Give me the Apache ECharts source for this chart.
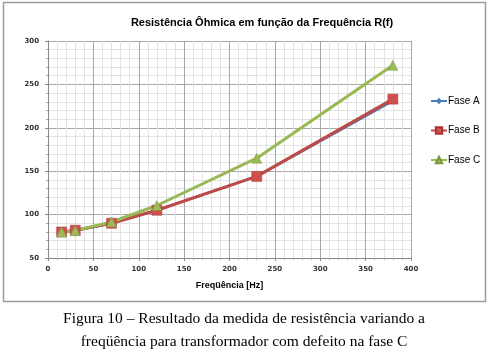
<!DOCTYPE html>
<html><head><meta charset="utf-8">
<script src="https://cdn.jsdelivr.net/npm/echarts@6/dist/echarts.min.js"></script>
<style>html,body{margin:0;padding:0;background:#fff}#c{width:488px;height:354px}</style>
</head><body><div id="c"></div>
<script>
const freq = [15, 30, 70, 120, 230, 380];
const faseA = [80, 81.5, 90, 105, 144, 231];
const faseB = [80, 82, 90, 105, 144, 233];
const faseC = [80, 81.5, 91.5, 110.5, 165, 272];
const seriesNames = ['Fase A', 'Fase B', 'Fase C'];
const chartTitle = 'Resistência Ôhmica em função da Frequência R(f)';
const xTitle = 'Freqüência [Hz]';
const caption1 = 'Figura 10 – Resultado da medida de resistência variando a';
const caption2 = 'freqüência para transformador com defeito na fase C';

const pair = (ys) => freq.map((x, i) => [x, ys[i]]);
const chart = echarts.init(document.getElementById('c'), null, {renderer: 'canvas'});
const tickLabel = {fontSize: 7, fontWeight: 'bold', color: '#333', fontFamily: 'DejaVu Sans'};
chart.setOption({
  animation: false,
  title: {text: chartTitle, left: 257, top: 12, textAlign: 'center',
    textStyle: {fontSize: 11, fontWeight: 'bold', color: '#000', fontFamily: 'Liberation Sans'}},
  grid: {left: 48, right: 77, top: 41, bottom: 96},
  legend: {orient: 'vertical', left: 430, top: 96, padding: 0, itemGap: 19.5, itemWidth: 16, itemHeight: 8,
    textStyle: {fontSize: 10, color: '#000', fontFamily: 'Liberation Sans', padding: [0,0,0,-4]},
    data: seriesNames},
  xAxis: {type: 'value', min: 0, max: 400, interval: 50,
    name: xTitle, nameLocation: 'middle', nameGap: 23,
    nameTextStyle: {fontSize: 9, fontWeight: 'bold', color: '#000', fontFamily: 'Liberation Sans'},
    axisLine: {show: true, lineStyle: {color: '#888'}},
    axisTick: {show: true, length: 3, lineStyle: {color: '#888'}},
    minorTick: {show: true, splitNumber: 5, length: 2, lineStyle: {color: '#aaa'}},
    axisLabel: Object.assign({margin: 8}, tickLabel),
    splitLine: {show: true, lineStyle: {color: '#a8a8a8', width: 1}},
    minorSplitLine: {show: true, lineStyle: {color: '#e2e2e2', width: 1}}},
  yAxis: {type: 'value', min: 50, max: 300, interval: 50,
    axisLine: {show: true, lineStyle: {color: '#888'}},
    axisTick: {show: true, length: 3, lineStyle: {color: '#888'}},
    minorTick: {show: true, splitNumber: 5, length: 2, lineStyle: {color: '#aaa'}},
    axisLabel: Object.assign({margin: 9}, tickLabel),
    splitLine: {show: true, lineStyle: {color: '#a8a8a8', width: 1}},
    minorSplitLine: {show: true, lineStyle: {color: '#e2e2e2', width: 1}}},
  series: [
    {name: seriesNames[0], type: 'line', data: pair(faseA), symbol: 'diamond', symbolSize: 7,
      lineStyle: {color: '#4a7ebb', width: 2.5}, itemStyle: {color: '#4a7ebb'}},
    {name: seriesNames[1], type: 'line', data: pair(faseB), symbol: 'rect', symbolSize: 10,
      lineStyle: {color: '#be4b48', width: 3}, itemStyle: {color: '#d0504d', borderColor: '#a33', borderWidth: 0.5}},
    {name: seriesNames[2], type: 'line', data: pair(faseC), symbol: 'triangle', symbolSize: 10,
      lineStyle: {color: '#98b954', width: 3}, itemStyle: {color: '#9bbb59', borderColor: '#7a9a3a', borderWidth: 0.5}}
  ],
  graphic: [
    {type: 'rect', shape: {x: 3.5, y: 2.5, width: 482, height: 299}, z: -10,
      style: {fill: 'none', stroke: '#9a9a9a', lineWidth: 1.5}},
    {type: 'text', left: 'center', top: 311, style: {text: caption1, fontSize: 15.5, fontFamily: 'Liberation Serif', fill: '#000'}},
    {type: 'text', left: 'center', top: 334, style: {text: caption2, fontSize: 15.5, fontFamily: 'Liberation Serif', fill: '#000'}}
  ]
});
</script></body></html>
